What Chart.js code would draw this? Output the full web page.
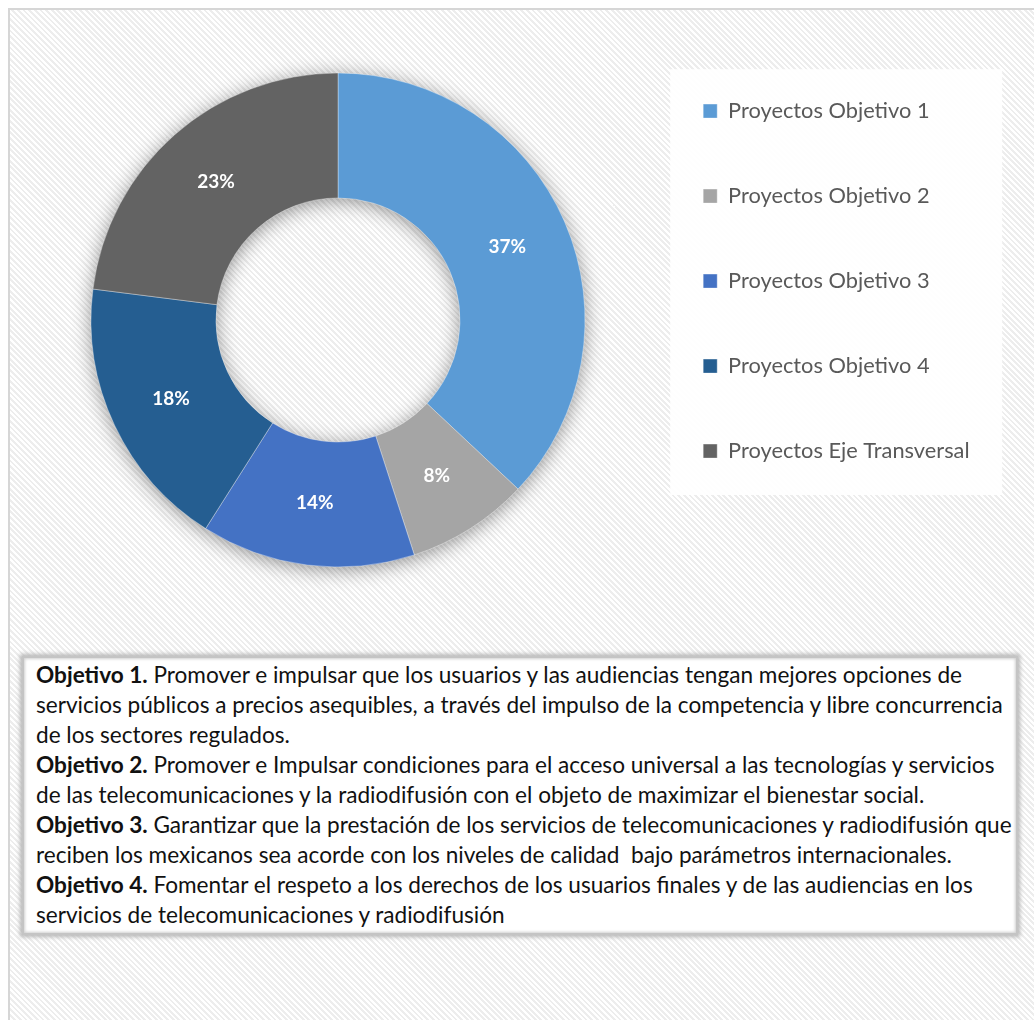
<!DOCTYPE html>
<html lang="es">
<head>
<meta charset="utf-8">
<title>Proyectos por objetivo</title>
<script src="https://cdn.jsdelivr.net/npm/chart.js@4.4.1/dist/chart.umd.min.js"></script>
<style>
    html, body { margin: 0; padding: 0; background: #fff; }
    body { width: 1034px; height: 1020px; position: relative; overflow: hidden; font-family: Lato, "Noto Sans", sans-serif; }
    .frame {
        position: absolute; left: 8px; top: 8px; width: 1040px; height: 1030px;
        box-sizing: border-box; border: 2px solid #d6d6d6;
        background: repeating-linear-gradient(45deg, #ffffff 0px, #ffffff 2px, #ededed 2px, #ededed 4px);
    }
    #chart { position: absolute; left: 0; top: 0; }
    .notes {
        position: absolute; left: 22px; top: 656px; width: 996px; height: 279px;
        box-sizing: border-box; background: #fff;
        border: 2px solid #c4c4c4;
        box-shadow: 0 0 4px 2px #b8b8b8, inset 0 0 3px 1px #d0d0d0;
        padding: 2px 0 0 12px;
        font-size: 22.6px; line-height: 30px; color: #111; white-space: nowrap;
    }
</style>
</head>
<body>
<div class="frame"></div>
<canvas id="chart" width="1034" height="640"></canvas>
<div class="notes">
    <div><b>Objetivo 1.</b> Promover e impulsar que los usuarios y las audiencias tengan mejores opciones de</div>
    <div>servicios públicos a precios asequibles, a través del impulso de la competencia y libre concurrencia</div>
    <div>de los sectores regulados.</div>
    <div><b>Objetivo 2.</b> Promover e Impulsar condiciones para el acceso universal a las tecnologías y servicios</div>
    <div>de las telecomunicaciones y la radiodifusión con el objeto de maximizar el bienestar social.</div>
    <div><b>Objetivo 3.</b> Garantizar que la prestación de los servicios de telecomunicaciones y radiodifusión que</div>
    <div>reciben los mexicanos sea acorde con los niveles de calidad &nbsp;bajo parámetros internacionales.</div>
    <div><b>Objetivo 4.</b> Fomentar el respeto a los derechos de los usuarios finales y de las audiencias en los</div>
    <div>servicios de telecomunicaciones y radiodifusión</div>
</div>
<script>
// ── Datos ──
const categorias = [
    'Proyectos Objetivo 1',
    'Proyectos Objetivo 2',
    'Proyectos Objetivo 3',
    'Proyectos Objetivo 4',
    'Proyectos Eje Transversal'
];
const porcentajes = [37, 8, 14, 18, 23];
const colores = ['#5B9BD5', '#A5A5A5', '#4472C4', '#255E91', '#636363'];

// ── Layout ──
const FONT = 'Lato';
const LEGEND_FONT_SIZE = 21.8;
const LEGEND_PAD = 85 - LEGEND_FONT_SIZE;
const LEGEND_LEFT = 640;
const DONUT_CX = 338;

// Sombra suave alrededor del anillo
const ringShadow = {
    id: 'ringShadow',
    beforeDatasetsDraw(chart) {
        const el = chart.getDatasetMeta(0).data[0];
        if (!el) return;
        const { x, y, outerRadius, innerRadius } = el.getProps(['x', 'y', 'outerRadius', 'innerRadius'], true);
        const ctx = chart.ctx;
        ctx.save();
        ctx.shadowColor = 'rgba(0, 0, 0, 0.45)';
        ctx.shadowBlur = 20;
        ctx.shadowOffsetY = 3;
        ctx.fillStyle = '#9a9a9a';
        ctx.beginPath();
        ctx.arc(x, y, outerRadius - 1, 0, Math.PI * 2);
        ctx.arc(x, y, innerRadius + 1, Math.PI * 2, 0, true);
        ctx.fill();
        ctx.restore();
    }
};

// Fondo blanco de la leyenda
const legendBg = {
    id: 'legendBg',
    beforeDraw(chart) {
        const lg = chart.legend;
        if (!lg || !lg.legendHitBoxes.length) return;
        const boxes = lg.legendHitBoxes;
        const left = boxes[0].left - 33;
        const top = boxes[0].top - 31;
        const bottom = boxes[boxes.length - 1].top + boxes[boxes.length - 1].height + 33;
        const ctx = chart.ctx;
        ctx.save();
        ctx.fillStyle = 'rgba(255, 255, 255, 0.9)';
        ctx.fillRect(left, top, 332, bottom - top);
        ctx.restore();
    }
};

// Etiquetas de porcentaje dentro de cada sector
const sliceLabels = {
    id: 'sliceLabels',
    afterDatasetsDraw(chart) {
        const ctx = chart.ctx;
        const meta = chart.getDatasetMeta(0);
        ctx.save();
        ctx.fillStyle = '#ffffff';
        ctx.font = `bold 19px ${FONT}`;
        ctx.textAlign = 'center';
        ctx.textBaseline = 'middle';
        meta.data.forEach((arc, i) => {
            const p = arc.getCenterPoint();
            ctx.fillText(porcentajes[i] + '%', p.x, p.y);
        });
        ctx.restore();
    }
};

function buildChart() {
    // ancho de la leyenda para dejar el anillo en su sitio
    const mctx = document.createElement('canvas').getContext('2d');
    mctx.font = `${LEGEND_FONT_SIZE}px ${FONT}`;
    const maxText = Math.max(...categorias.map(c => mctx.measureText(c).width));
    const legendWidth = LEGEND_PAD + 14 + LEGEND_FONT_SIZE / 2 + maxText + 10;
    const padRight = 1034 - LEGEND_LEFT - legendWidth;
    const padLeft = DONUT_CX * 2 - LEGEND_LEFT;

    new Chart(document.getElementById('chart'), {
        type: 'doughnut',
        data: {
            labels: categorias,
            datasets: [{
                data: porcentajes,
                backgroundColor: colores,
                borderColor: 'rgba(255, 255, 255, 0.35)',
                borderWidth: 1,
                radius: 247,
                cutout: '49.4%'
            }]
        },
        options: {
            responsive: false,
            devicePixelRatio: 1,
            animation: false,
            layout: { padding: { left: padLeft, right: padRight, top: 37, bottom: 37 } },
            plugins: {
                tooltip: { enabled: false },
                legend: {
                    position: 'right',
                    align: 'start',
                    labels: {
                        boxWidth: 14,
                        boxHeight: 14,
                        padding: LEGEND_PAD,
                        color: '#595959',
                        font: { family: FONT, size: LEGEND_FONT_SIZE }
                    }
                }
            }
        },
        plugins: [legendBg, ringShadow, sliceLabels]
    });
}

document.fonts.load(`20px ${FONT}`).then(buildChart, buildChart);
</script>
</body>
</html>
